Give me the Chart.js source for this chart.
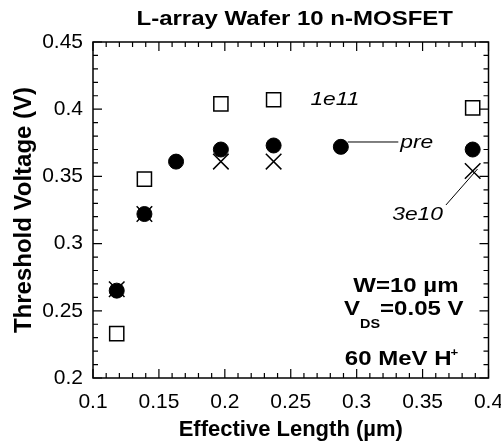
<!DOCTYPE html>
<html><head><meta charset="utf-8">
<script src="https://cdn.jsdelivr.net/npm/chart.js@4/dist/chart.umd.min.js"></script>
<style>html,body{margin:0;padding:0;background:#fff}#wrap{width:501px;height:448px}</style>
</head><body><div id="wrap"><canvas id="c" width="501" height="448"></canvas></div>
<script>
// ---- data ----
const lengthPre  = [0.118, 0.139, 0.163, 0.197, 0.237, 0.288, 0.388];
const vthPre     = [0.265, 0.322, 0.361, 0.370, 0.373, 0.372, 0.370];
const length1e11 = [0.118, 0.139, 0.197, 0.237, 0.388];
const vth1e11    = [0.233, 0.348, 0.404, 0.407, 0.401];
const length3e10 = [0.118, 0.139, 0.197, 0.237, 0.388];
const vth3e10    = [0.266, 0.322, 0.361, 0.361, 0.354];
const seriesNames = ['pre', '1e11', '3e10'];
const xTickValues = [0.1, 0.15, 0.2, 0.25, 0.3, 0.35, 0.4];
const xTickLabels = ['0.1', '0.15', '0.2', '0.25', '0.3', '0.35', '0.4'];
const yTickValues = [0.2, 0.25, 0.3, 0.35, 0.4, 0.45];
const yTickLabels = ['0.2', '0.25', '0.3', '0.35', '0.4', '0.45'];
const titleText = 'L-array Wafer 10 n-MOSFET';
const xTitle = 'Effective Length (\u00b5m)';
const yTitle = 'Threshold Voltage (V)';

const FONT = '"Liberation Sans", Arial, Helvetica, sans-serif';
const toPts = (xs, ys) => xs.map((x, i) => ({x: x, y: ys[i]}));
const lookup = (vals, labels, v) => { const i = vals.findIndex(t => Math.abs(t - v) < 1e-9); return i < 0 ? '' : labels[i]; };

function sText(ctx, text, x, y, font, align, sx) {
  ctx.save();
  ctx.translate(x, y);
  ctx.scale(sx || 1.2, 1);
  ctx.font = font;
  ctx.textAlign = align || 'left';
  ctx.textBaseline = 'alphabetic';
  ctx.fillStyle = '#000';
  ctx.fillText(text, 0, 0);
  ctx.restore();
}
function sWidth(ctx, text, font, sx) { ctx.save(); ctx.font = font; const w = ctx.measureText(text).width * (sx || 1.2); ctx.restore(); return w; }

const decor = {
  id: 'decor',
  afterDraw(chart) {
    const ctx = chart.ctx, a = chart.chartArea, xs = chart.scales.x, ys = chart.scales.y;
    ctx.save();
    // frame
    ctx.strokeStyle = '#000'; ctx.lineWidth = 1.5;
    ctx.strokeRect(a.left, a.top, a.right - a.left, a.bottom - a.top);
    // inward ticks on all sides
    ctx.lineWidth = 1.2;
    ctx.beginPath();
    for (let k = 10; k <= 40; k++) {
      const px = xs.getPixelForValue(k / 100), len = (k % 5 === 0) ? 9 : 5;
      ctx.moveTo(px, a.bottom); ctx.lineTo(px, a.bottom - len);
      ctx.moveTo(px, a.top); ctx.lineTo(px, a.top + len);
    }
    for (let k = 20; k <= 45; k++) {
      const py = ys.getPixelForValue(k / 100), len = (k % 5 === 0) ? 9 : 5;
      ctx.moveTo(a.left, py); ctx.lineTo(a.left + len, py);
      ctx.moveTo(a.right, py); ctx.lineTo(a.right - len, py);
    }
    ctx.stroke();
    // title
    sText(ctx, titleText, (a.left + a.right) / 2 + 4, 25, 'bold 20px ' + FONT, 'center');
    // series labels
    const it = 'italic 19px ' + FONT;
    sText(ctx, seriesNames[1], xs.getPixelForValue(0.2835), ys.getPixelForValue(0.4031), it, 'center');
    sText(ctx, seriesNames[0], xs.getPixelForValue(0.3331), ys.getPixelForValue(0.3711), it, 'left');
    sText(ctx, seriesNames[2], xs.getPixelForValue(0.3462), ys.getPixelForValue(0.3176), it, 'center');
    ctx.lineWidth = 1; ctx.strokeStyle = '#000';
    ctx.beginPath();
    ctx.moveTo(xs.getPixelForValue(0.2932), ys.getPixelForValue(0.3756));
    ctx.lineTo(xs.getPixelForValue(0.3316), ys.getPixelForValue(0.3756));
    ctx.moveTo(xs.getPixelForValue(0.3677), ys.getPixelForValue(0.3287));
    ctx.lineTo(xs.getPixelForValue(0.3917), ys.getPixelForValue(0.3555));
    ctx.stroke();
    // condition block
    const b = 'bold 20px ' + FONT, bs = 'bold 12px ' + FONT;
    sText(ctx, 'W=10 \u00b5m', a.right - 30, a.bottom - 86, b, 'right');
    let r = a.right - 25;
    sText(ctx, '=0.05 V', r, a.bottom - 63, b, 'right');
    r -= sWidth(ctx, '=0.05 V', b);
    sText(ctx, 'DS', r, a.bottom - 50, bs, 'right');
    r -= sWidth(ctx, 'DS', bs);
    sText(ctx, 'V', r, a.bottom - 63, b, 'right');
    const r2 = a.right - 37;
    sText(ctx, '60 MeV H', r2, a.bottom - 13, b, 'right');
    sText(ctx, '+', r2 - 1, a.bottom - 22, 'bold 11px ' + FONT, 'left');
    ctx.restore();
  }
};

new Chart(document.getElementById('c'), {
  type: 'scatter',
  data: {
    datasets: [
      { label: seriesNames[0], data: toPts(lengthPre, vthPre), pointStyle: 'circle', pointRadius: 7.5,
        backgroundColor: '#000', borderColor: '#000', borderWidth: 1 },
      { label: seriesNames[1], data: toPts(length1e11, vth1e11), pointStyle: 'rect', pointRadius: 10,
        backgroundColor: 'rgba(0,0,0,0)', borderColor: '#000', borderWidth: 1.5 },
      { label: seriesNames[2], data: toPts(length3e10, vth3e10), pointStyle: 'crossRot', pointRadius: 11,
        backgroundColor: 'rgba(0,0,0,0)', borderColor: '#000', borderWidth: 1.5 }
    ]
  },
  options: {
    responsive: false, animation: false, devicePixelRatio: 1,
    layout: { padding: { top: 42, right: 9, bottom: 0, left: 0 } },
    plugins: { legend: { display: false }, tooltip: { enabled: false }, title: { display: false } },
    scales: {
      x: {
        type: 'linear', min: 0.1, max: 0.4,
        afterBuildTicks: s => { s.ticks = xTickValues.map(v => ({ value: v })); },
        afterFit: s => { s.height = 70; s.paddingLeft = 0; s.paddingRight = 0; },
        grid: { display: false, drawTicks: false }, border: { display: false },
        ticks: { autoSkip: false, maxRotation: 0, padding: 12, color: '#000',
                 font: { family: FONT, size: 21 }, callback: v => lookup(xTickValues, xTickLabels, v) },
        title: { display: true, text: xTitle, color: '#000', padding: { top: 0, bottom: 5 },
                 font: { family: FONT, size: 22, weight: 'bold' } }
      },
      y: {
        type: 'linear', min: 0.2, max: 0.45,
        afterBuildTicks: s => { s.ticks = yTickValues.map(v => ({ value: v })); },
        afterFit: s => { s.width = 93; s.paddingTop = 0; s.paddingBottom = 0; },
        grid: { display: false, drawTicks: false }, border: { display: false },
        ticks: { padding: 10, color: '#000',
                 font: { family: FONT, size: 21 }, callback: v => lookup(yTickValues, yTickLabels, v) },
        title: { display: true, text: yTitle, color: '#000', padding: { top: 10, bottom: 0 },
                 font: { family: FONT, size: 24, weight: 'bold' } }
      }
    }
  },
  plugins: [decor]
});
</script></body></html>
